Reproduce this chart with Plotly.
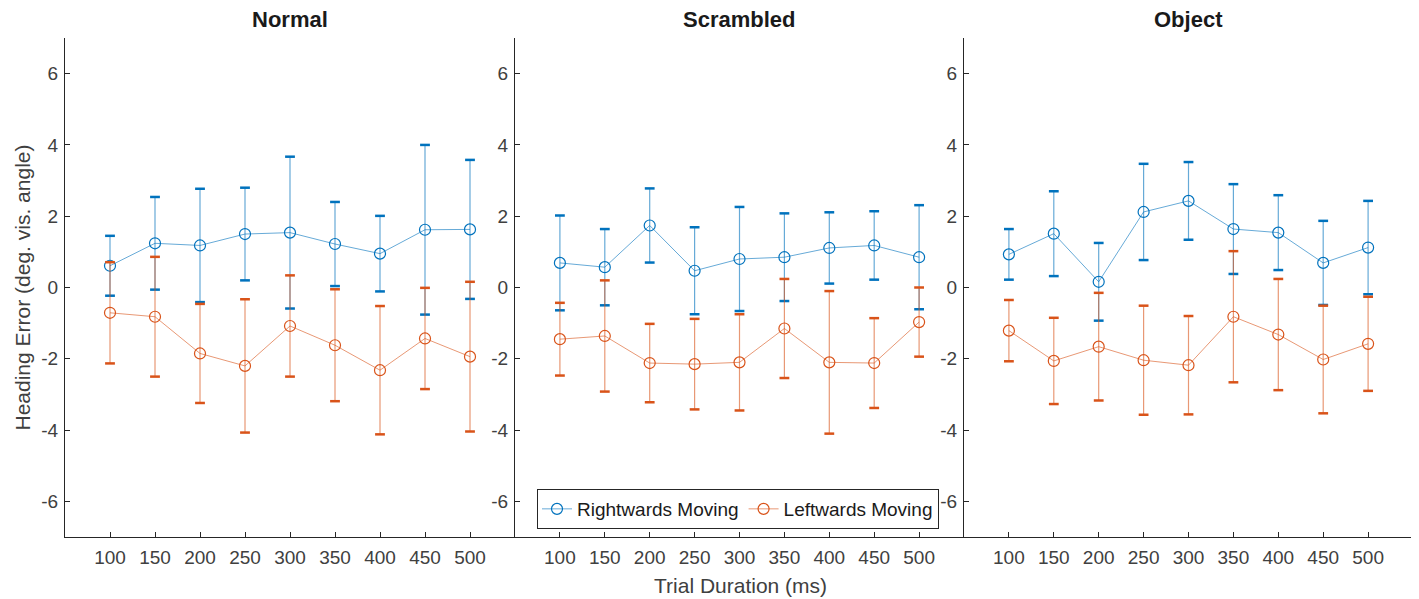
import plotly.graph_objects as go

durations = [100, 150, 200, 250, 300, 350, 400, 450, 500]
panels = ["Normal", "Scrambled", "Object"]

normal_right = [0.61, 1.24, 1.18, 1.50, 1.54, 1.22, 0.95, 1.62, 1.63]
normal_right_err = [0.84, 1.30, 1.59, 1.30, 2.13, 1.18, 1.06, 2.38, 1.95]
normal_left = [-0.71, -0.82, -1.85, -2.20, -1.08, -1.62, -2.32, -1.43, -1.94]
normal_left_err = [1.42, 1.68, 1.39, 1.87, 1.42, 1.57, 1.80, 1.42, 2.10]

scrambled_right = [0.69, 0.57, 1.74, 0.47, 0.80, 0.85, 1.11, 1.18, 0.85]
scrambled_right_err = [1.33, 1.07, 1.04, 1.22, 1.46, 1.23, 1.00, 0.96, 1.46]
scrambled_left = [-1.45, -1.36, -2.12, -2.15, -2.10, -1.15, -2.10, -2.12, -0.97]
scrambled_left_err = [1.02, 1.56, 1.10, 1.27, 1.35, 1.39, 2.00, 1.26, 0.97]

object_right = [0.93, 1.51, 0.16, 2.12, 2.43, 1.64, 1.54, 0.69, 1.12]
object_right_err = [0.71, 1.19, 1.09, 1.35, 1.09, 1.26, 1.05, 1.18, 1.31]
object_left = [-1.21, -2.06, -1.66, -2.04, -2.18, -0.82, -1.32, -2.02, -1.58]
object_left_err = [0.86, 1.21, 1.51, 1.53, 1.38, 1.84, 1.56, 1.51, 1.32]

series_names = ["Rightwards Moving", "Leftwards Moving"]
y_ticks = [-6, -4, -2, 0, 2, 4, 6]
y_tick_labels = ["-6", "-4", "-2", "0", "2", "4", "6"]

data = [
    [(normal_right, normal_right_err), (normal_left, normal_left_err)],
    [(scrambled_right, scrambled_right_err), (scrambled_left, scrambled_left_err)],
    [(object_right, object_right_err), (object_left, object_left_err)],
]

solid = ["#0072BD", "#D95319"]
light = ["rgba(0,114,189,0.6)", "rgba(217,83,25,0.6)"]

# page has an 8px body margin, so the figure is sized to compensate
OFF = 8
W, H = 1419 - OFF, 599 - OFF
ml, mt = 65 - OFF, 38 - OFF
pw = 1348
ph = 499
mr = W - ml - pw
mb = H - mt - ph
edges = [0, 450 / pw, 899 / pw, 1.0]

FONT = "Liberation Sans, Arial, Helvetica, sans-serif"
fig = go.Figure()
axis_color = "#262626"
tick_font = dict(family=FONT, size=19, color="#404040")

for p in range(3):
    xa = "x" if p == 0 else f"x{p+1}"
    ya = "y" if p == 0 else f"y{p+1}"
    for s in range(2):
        vals, errs = data[p][s]
        fig.add_trace(go.Scatter(
            x=durations, y=vals, mode="lines+markers",
            name=series_names[s], legendgroup=series_names[s],
            showlegend=(p == 1),
            line=dict(color=light[s], width=1),
            marker=dict(symbol="circle-open", size=11, color=solid[s], line=dict(width=1.2, color=solid[s])),
            error_y=dict(type="data", array=errs, visible=True, color=light[s], thickness=1.2, width=0),
            xaxis=xa, yaxis=ya,
        ))
        caps_y = [v + e for v, e in zip(vals, errs)] + [v - e for v, e in zip(vals, errs)]
        fig.add_trace(go.Scatter(
            x=durations + durations, y=caps_y, mode="markers",
            showlegend=False, hoverinfo="skip", legendgroup=series_names[s],
            marker=dict(symbol="line-ew", size=7, line=dict(width=2.5, color=solid[s])),
            xaxis=xa, yaxis=ya,
        ))

    common_x = dict(domain=[edges[p], edges[p + 1]], range=[50, 550], tickvals=durations,
                    ticks="inside", ticklen=5, tickcolor=axis_color, showline=True, linecolor=axis_color,
                    linewidth=1, showgrid=False, zeroline=False, tickfont=tick_font, anchor=ya,
                    ticklabelstandoff=3)
    common_y = dict(domain=[0, 1], range=[-7, 7], tickvals=y_ticks, ticktext=y_tick_labels,
                    ticks="inside", ticklen=5,
                    tickcolor=axis_color, showline=True, linecolor=axis_color, linewidth=1,
                    showgrid=False, zeroline=False, tickfont=tick_font, anchor=xa, ticklabelstandoff=2)
    if p == 0:
        fig.update_layout(xaxis=common_x, yaxis=common_y)
    else:
        fig.update_layout(**{f"xaxis{p+1}": common_x, f"yaxis{p+1}": common_y})

annotations = []
for p, name in enumerate(panels):
    annotations.append(dict(text=f"<b>{name}</b>", x=(edges[p] + edges[p + 1]) / 2, y=(537 - 20) / ph,
                            xref="paper", yref="paper", showarrow=False, xanchor="center", yanchor="middle",
                            font=dict(family=FONT, size=22, color="#1a1a1a")))
annotations.append(dict(text="Heading Error (deg. vis. angle)", x=(22 - 65) / pw, y=0.5, xref="paper", yref="paper",
                        textangle=-90, showarrow=False, xanchor="center", yanchor="middle",
                        font=dict(family=FONT, size=21, color="#404040")))
annotations.append(dict(text="Trial Duration (ms)", x=(740 - 65) / pw, y=(537 - 585) / ph, xref="paper", yref="paper",
                        showarrow=False, xanchor="center", yanchor="middle",
                        font=dict(family=FONT, size=21, color="#404040")))

fig.update_layout(
    width=W, height=H, margin=dict(l=ml, r=mr, t=mt, b=mb),
    plot_bgcolor="white", paper_bgcolor="white",
    annotations=annotations,
    legend=dict(orientation="h", x=(537 - 65) / pw, y=(537 - 529) / ph, xanchor="left", yanchor="bottom",
                bordercolor=axis_color, borderwidth=1, bgcolor="white",
                font=dict(family=FONT, size=19, color="#1a1a1a"),
                tracegroupgap=0),
)

fig.write_html("out.html")
